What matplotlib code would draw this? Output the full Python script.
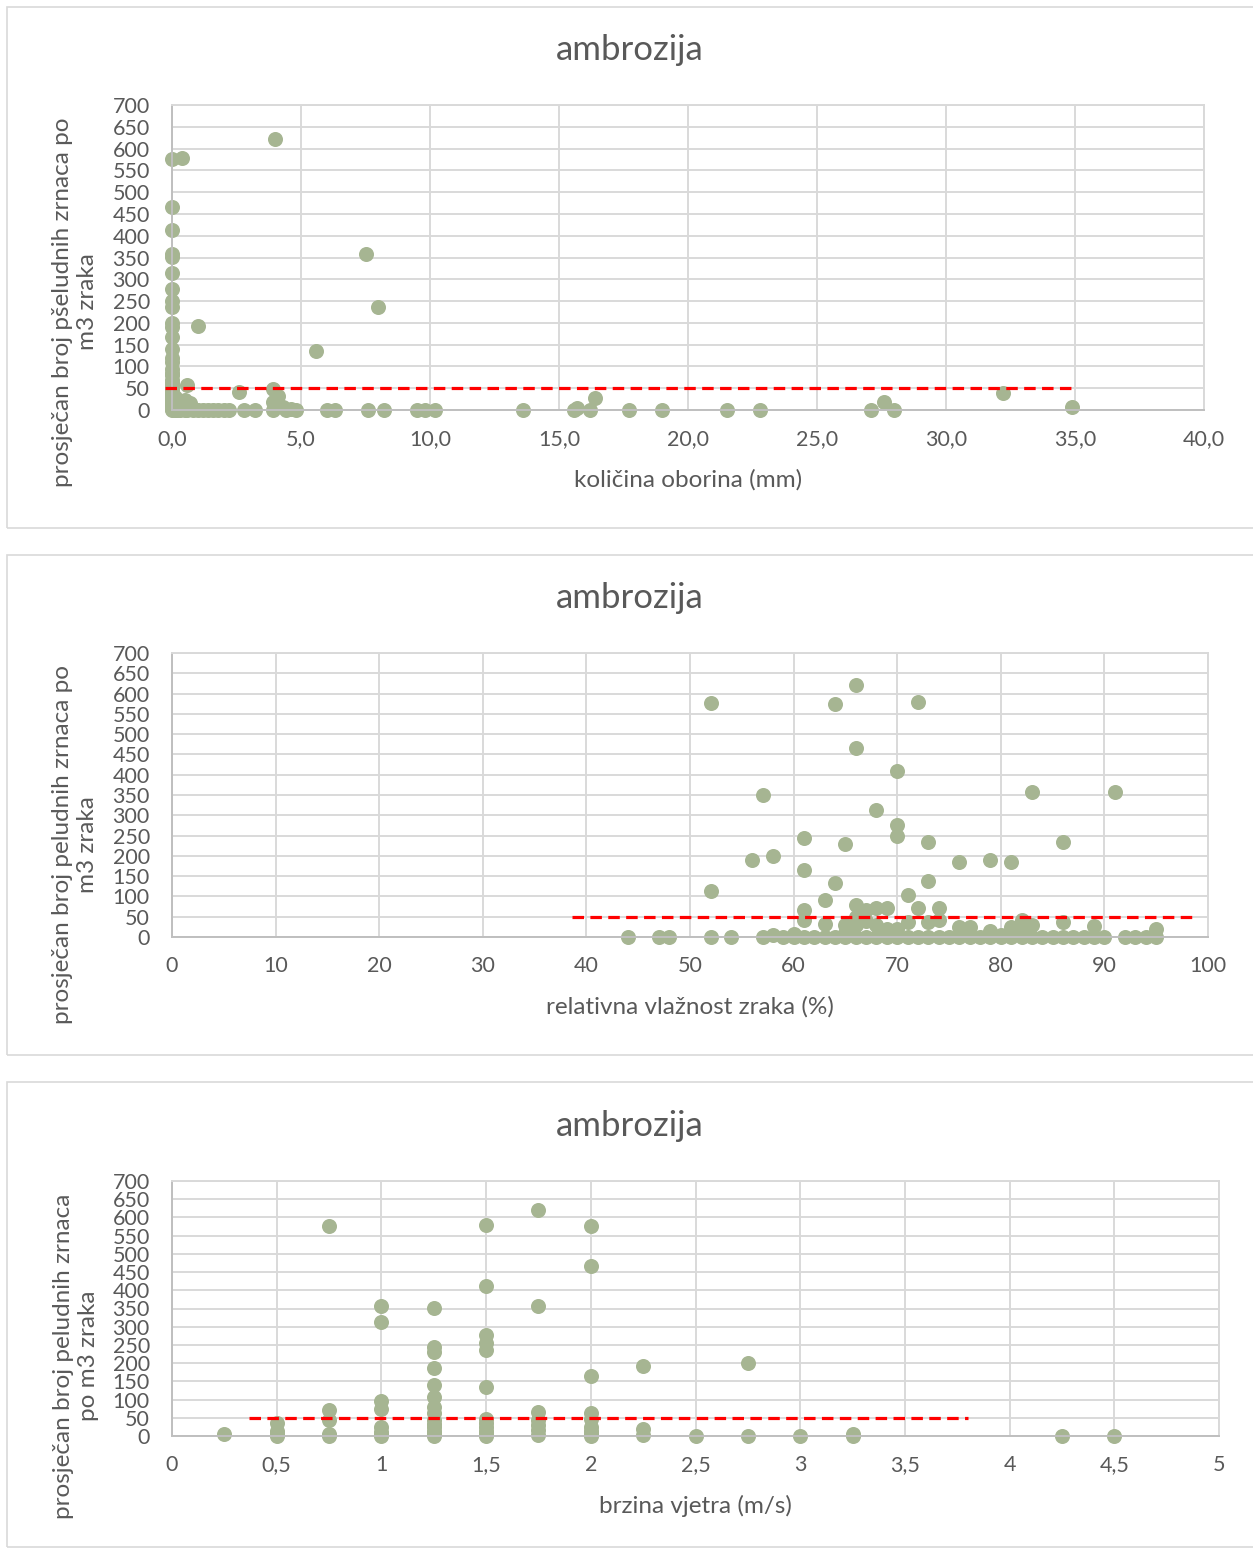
import matplotlib.pyplot as plt
from matplotlib.patches import Rectangle

W, H = 1253, 1549

# --- panel 1: kolicina oborina (mm) ---
obor_x = [0] * 32 + [0.4, 4.0, 1.0, 7.5, 8.0, 5.6, 0.6, 2.6, 3.9, 4.1, 3.9, 0.5, 0.3, 0.2, 0.1, 0.2, 0.4,
                     0.1, 0.2, 0.3, 0.5, 0.6, 0.8, 1.0, 1.2, 1.4, 1.6, 1.8, 2.0, 2.2, 2.8, 3.2, 3.9, 4.4, 4.8,
                     6.0, 6.3, 7.6, 8.2, 9.5, 9.8, 10.2, 13.6, 15.6, 16.2, 17.7, 19.0, 21.5, 22.8, 27.1, 28.0,
                     4.3, 16.4, 15.7, 27.6, 32.2, 34.9, 4.6, 0.7]
obor_y = [577, 466, 413, 359, 352, 315, 277, 251, 236, 199, 190, 167, 139, 120, 111, 95, 85, 80, 70, 62,
          55, 48, 42, 36, 30, 25, 20, 15, 10, 6, 3, 0] + \
         [578, 621, 193, 358, 236, 135, 58, 42, 48, 31, 19, 23, 12, 5, 30, 20, 8] + [0] * 34 + \
         [8, 27, 5, 18, 38, 7, 3, 15]
obor_ticks = [0, 5, 10, 15, 20, 25, 30, 35, 40]
obor_line = [-0.27, 34.9]

# --- panel 2: relativna vlaznost zraka (%) ---
vlaga = [(44, 0), (47, 0), (48, 0), (52, 576), (52, 114), (52, 0), (54, 0), (56, 189), (57, 350), (57, 0),
         (58, 199), (58, 5), (59, 0), (60, 8), (60, 0), (61, 245), (61, 165), (61, 67), (61, 41), (61, 0),
         (62, 0), (63, 92), (63, 33), (63, 0), (64, 574), (64, 134), (64, 0), (65, 230), (65, 30), (65, 10),
         (65, 0), (66, 620), (66, 466), (66, 78), (66, 50), (66, 30), (66, 0), (67, 66), (67, 40), (67, 0),
         (68, 313), (68, 72), (68, 30), (68, 0), (69, 71), (69, 20), (69, 0), (70, 410), (70, 275), (70, 250),
         (70, 20), (70, 0), (71, 104), (71, 38), (71, 0), (72, 71), (72, 578), (72, 0), (73, 233), (73, 138),
         (73, 37), (73, 0), (74, 71), (74, 41), (74, 0), (75, 0), (76, 186), (76, 25), (76, 0), (77, 25),
         (77, 0), (78, 0), (79, 190), (79, 16), (79, 0), (80, 5), (80, 0), (81, 186), (81, 25), (81, 0),
         (82, 43), (82, 20), (82, 0), (83, 357), (83, 29), (83, 0), (84, 0), (85, 0), (86, 234), (86, 37),
         (86, 0), (87, 0), (88, 0), (89, 26), (89, 0), (90, 0), (91, 357), (92, 0), (93, 0), (94, 0),
         (95, 20), (95, 0)]
vlaga_ticks = [0, 10, 20, 30, 40, 50, 60, 70, 80, 90, 100]
vlaga_line = [38.6, 98.5]

# --- panel 3: brzina vjetra (m/s) ---
vjetar = {
    0.25: [6],
    0.5: [36, 15, 5, 0],
    0.75: [576, 71, 45, 6, 0],
    1.0: [358, 314, 96, 73, 25, 12, 6, 0],
    1.25: [351, 245, 231, 187, 140, 107, 80, 62, 43, 34, 25, 15, 6, 0],
    1.5: [580, 412, 277, 254, 236, 135, 48, 35, 25, 15, 6, 0],
    1.75: [621, 358, 66, 43, 30, 16, 2],
    2.0: [576, 466, 165, 62, 48, 25, 15, 6, 0],
    2.25: [192, 20, 2],
    2.5: [0],
    2.75: [201, 0],
    3.0: [0],
    3.25: [5, 0],
    4.25: [0],
    4.5: [0],
}
vjetar_ticks = [0, 0.5, 1, 1.5, 2, 2.5, 3, 3.5, 4, 4.5, 5]
vjetar_line = [0.37, 3.80]

y_ticks = list(range(0, 701, 50))
prag = 50

plt.rcParams['font.family'] = ['Lato', 'DejaVu Sans']
txt = '#595959'
green = '#A6B592'

fig = plt.figure(figsize=(W / 100, H / 100), dpi=100)


def fx(x):
    return x / W


def fy(y):
    return 1 - y / H


def panel(box, plot, xs, ys, xticks, xlabels, line, xtitle, ytitle, ytitle_xy, xtitle_y, title_y):
    fig.patches.append(Rectangle((fx(box[0]), fy(box[3])), fx(box[2] - box[0]), (box[3] - box[1]) / H,
                                 transform=fig.transFigure, fill=False, edgecolor='#d9d9d9', lw=1.2))
    l, t, r, b = plot
    ax = fig.add_axes([fx(l), fy(b), fx(r - l), (b - t) / H])
    ax.set_xlim(xticks[0], xticks[-1])
    ax.set_ylim(0, 700)
    ax.set_xticks(xticks)
    ax.set_xticklabels(xlabels)
    ax.set_yticks(y_ticks)
    ax.grid(True, color='#d9d9d9', lw=1.4)
    ax.set_axisbelow(True)
    for s in ['top', 'right']:
        ax.spines[s].set_color('#d9d9d9')
        ax.spines[s].set_linewidth(1.4)
    for s in ['left', 'bottom']:
        ax.spines[s].set_color('#bfbfbf')
        ax.spines[s].set_linewidth(1.4)
    ax.tick_params(length=0, labelsize=15.5, colors=txt)
    ax.tick_params(axis='y', pad=16)
    ax.tick_params(axis='x', pad=14)
    ax.scatter(xs, ys, s=117, color=green, zorder=2, clip_on=False, linewidths=0)
    ax.plot(line, [prag, prag], color='red', lw=2.3, dashes=(3.6, 2.0), zorder=3, clip_on=False)
    fig.text(fx(630), fy(title_y), 'ambrozija', ha='center', va='center', fontsize=25, color=txt)
    fig.text(fx((l + r) / 2), fy(xtitle_y), xtitle, ha='center', va='center', fontsize=17.5, color=txt)
    fig.text(fx(ytitle_xy[0]), fy(ytitle_xy[1]), ytitle, ha='center', va='center', rotation=90,
             fontsize=17.5, color=txt, multialignment='center', linespacing=1.2)
    return ax


panel((7, 7, 1260, 528), (172, 105, 1204, 410), obor_x, obor_y, obor_ticks,
      [f'{v:.1f}'.replace('.', ',') for v in obor_ticks], obor_line,
      'količina oborina (mm)', 'prosječan broj pšeludnih zrnaca po\nm3 zraka', (75, 302), 480, 50)

vx = [p[0] for p in vlaga]
vy = [p[1] for p in vlaga]
panel((7, 555, 1260, 1055), (172, 653, 1208, 937), vx, vy, vlaga_ticks,
      [str(v) for v in vlaga_ticks], vlaga_line,
      'relativna vlažnost zraka (%)', 'prosječan broj peludnih zrnaca po\nm3 zraka', (75, 845), 1007, 598)

wx = []
wy = []
for k, vals in vjetar.items():
    for v in vals:
        wx.append(k)
        wy.append(v)
panel((7, 1082, 1260, 1547), (172, 1181, 1219, 1436), wx, wy, vjetar_ticks,
      [f'{v:g}'.replace('.', ',') for v in vjetar_ticks], vjetar_line,
      'brzina vjetra (m/s)', 'prosječan broj peludnih zrnaca\npo m3 zraka', (76, 1356), 1506, 1126)

fig.savefig('out.png', dpi=100)
